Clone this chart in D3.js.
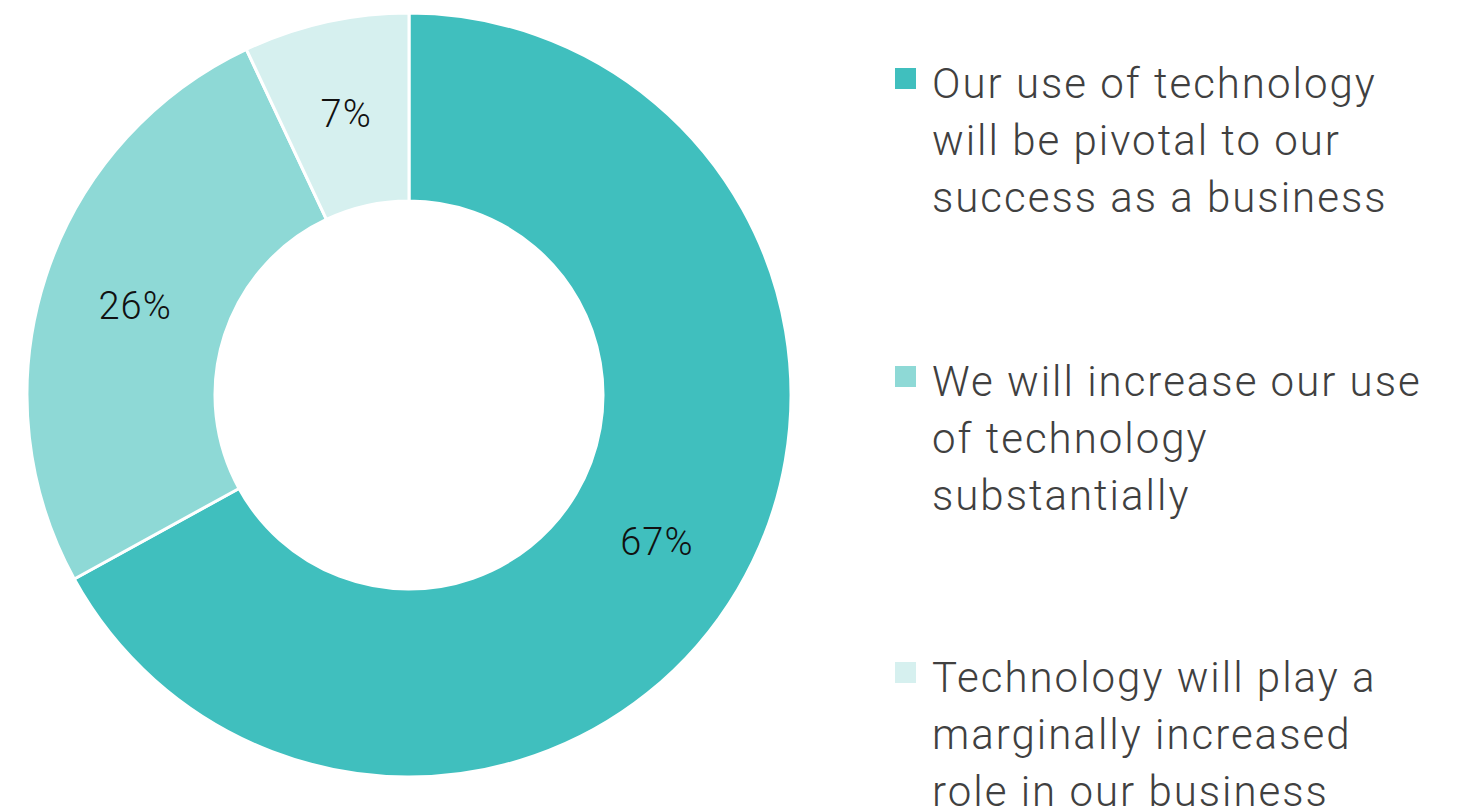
<!DOCTYPE html>
<html>
<head>
<meta charset="utf-8">
<script src="https://cdn.jsdelivr.net/npm/d3@7"></script>
<style>
  html, body { margin: 0; padding: 0; background: #ffffff; }
  svg { display: block; }
  text { font-family: Roboto, "Noto Sans", sans-serif; font-weight: 300; }
</style>
</head>
<body>
<svg id="chart" width="1469" height="810"></svg>
<script>
// Share of respondents by expected role of technology
const categories = [
  ["Our use of technology", "will be pivotal to our", "success as a business"],
  ["We will increase our use", "of technology", "substantially"],
  ["Technology will play a", "marginally increased", "role in our business"]
];
const values = [67, 26, 7];
const colors = ["#40bfbe", "#8ed9d6", "#d6f0ef"];

const svg = d3.select("#chart");
const cx = 409, cy = 395;
const outerR = 382, innerR = 194;

const pie = d3.pie().sort(null).value(d => d);
const arcs = pie(values);
const arc = d3.arc().innerRadius(innerR).outerRadius(outerR);
const labelArc = d3.arc().innerRadius((innerR + outerR) / 2).outerRadius((innerR + outerR) / 2);

const g = svg.append("g").attr("transform", `translate(${cx},${cy})`);

g.selectAll("path.slice")
  .data(arcs)
  .join("path")
  .attr("class", "slice")
  .attr("d", arc)
  .attr("fill", (d, i) => colors[i])
  .attr("stroke", "#ffffff")
  .attr("stroke-width", 3)
  .attr("stroke-linejoin", "round");

g.selectAll("text.pct")
  .data(arcs)
  .join("text")
  .attr("class", "pct")
  .attr("transform", d => `translate(${labelArc.centroid(d)})`)
  .attr("text-anchor", "middle")
  .attr("dominant-baseline", "central")
  .attr("font-size", 38)
  .attr("letter-spacing", 1)
  .attr("fill", "#111111")
  .text(d => d.data + "%");

// Legend
const legendX = 895, textX = 932;
const firstBaseline = [98, 396, 692];
const lineGap = 57;

const legend = svg.append("g");
categories.forEach((lines, i) => {
  const item = legend.append("g");
  item.append("rect")
    .attr("x", legendX)
    .attr("y", firstBaseline[i] - 30)
    .attr("width", 21)
    .attr("height", 21)
    .attr("fill", colors[i]);
  lines.forEach((line, j) => {
    item.append("text")
      .attr("x", textX)
      .attr("y", firstBaseline[i] + j * lineGap)
      .attr("font-size", 42)
      .attr("letter-spacing", 2)
      .attr("fill", "#404040")
      .text(line);
  });
});
</script>
</body>
</html>
